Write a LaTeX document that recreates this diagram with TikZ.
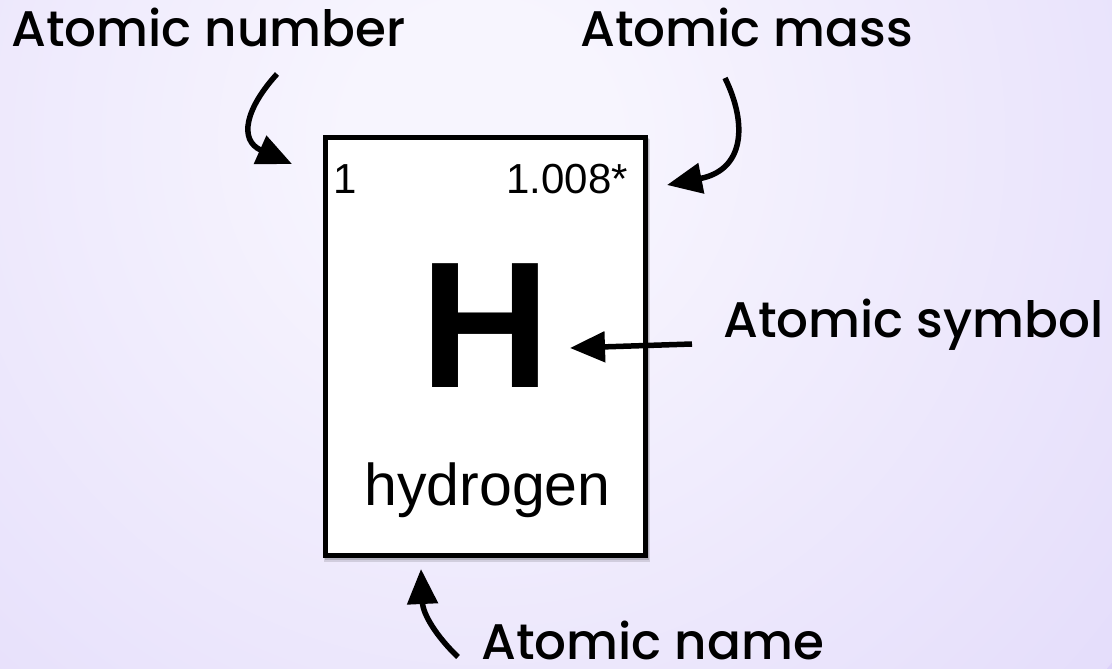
\documentclass[tikz,border=0pt]{standalone}
\usepackage{fontspec}
\setmainfont{Liberation Sans}
\newfontfamily\labfont{Poppins}[UprightFont={* Medium}]
\usetikzlibrary{arrows.meta}
\definecolor{bgin}{RGB}{247,245,254}
\definecolor{bgout}{RGB}{219,209,249}
\pgfdeclareradialshading{bgshade}{\pgfpoint{0bp}{0bp}}{color(0bp)=(bgin); color(4bp)=(bgin); color(36bp)=(bgout); color(50bp)=(bgout)}
\tikzset{
  lab/.style={font=\labfont\fontsize{50}{50}\selectfont, inner sep=0pt, anchor=base west, text=black},
  cell/.style={font=\fontsize{42}{42}\selectfont, inner sep=0pt, text=black},
  arr/.style={line width=5.5pt, -{Triangle[length=35pt,width=30pt]}},
}
\begin{document}
\begin{tikzpicture}[x=1pt,y=-1pt]
\useasboundingbox (0,0) rectangle (1112,669);
\begin{scope}
\clip (0,0) rectangle (1112,669);
\fill[bgout] (0,0) rectangle (1112,669);
\shade[shading=bgshade] (480,140) circle (820);
\end{scope}
% shadow
\fill[black,opacity=0.12] (324,139) rectangle (650,562);
\fill[black,opacity=0.15] (325,138) rectangle (649,560);
% cell
\node[draw, line width=5pt, fill=white, minimum width=320pt, minimum height=417.5pt, inner sep=0pt] (box) at (485.5,346.25) {};
\node[cell, anchor=base west] (num) at (333,193) {1};
\node[cell, anchor=base east] (mass) at (628,193) {1.008*};
\node[inner sep=0pt, anchor=base, font=\bfseries\fontsize{180}{180}\selectfont] (sym) at (485,387) {H};
\node[inner sep=0pt, anchor=base, font=\fontsize{59}{59}\selectfont] (name) at (487.5,505) {hydrogen};
% labels
\node[lab] (lnum) at (11,47) {Atomic number};
\node[lab] (lmass) at (580,47) {Atomic mass};
\node[lab] (lsym) at (723,337) {Atomic symbol};
\node[lab] (lname) at (481,659) {Atomic name};
% arrow end points
\coordinate (a1s) at (277,74);
\coordinate (a1e) at (292,164);
\coordinate (a2s) at (725,78);
\coordinate (a2e) at (667,185);
\coordinate (a3s) at (692,344);
\coordinate (a3e) at (570,348);
\coordinate (a4s) at (458,657);
\coordinate (a4e) at (421,569);
\draw[arr] (a1s) .. controls (246,108) and (238,140) .. (a1e);
\draw[arr] (a2s) .. controls (748,125) and (744,170) .. (a2e);
\draw[arr] (a3s) -- (a3e);
\draw[arr] (a4s) .. controls (436,636) and (423,614) .. (a4e);
\end{tikzpicture}
\end{document}
